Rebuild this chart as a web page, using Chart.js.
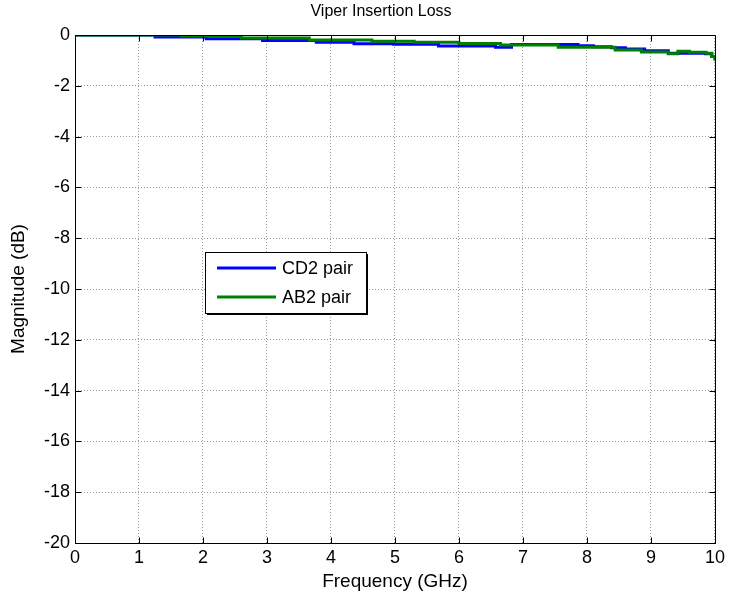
<!DOCTYPE html>
<html>
<head>
<meta charset="utf-8">
<script src="https://cdn.jsdelivr.net/npm/chart.js@4.4.1/dist/chart.umd.min.js"></script>
<style>
html,body{margin:0;padding:0;background:#fff;}
#wrap{width:729px;height:597px;}
</style>
</head>
<body>
<div id="wrap"><canvas id="c" width="729" height="597"></canvas></div>
<script>
// ---- data ----
const chartTitle = "Viper Insertion Loss";
const xTitle = "Frequency (GHz)";
const yTitle = "Magnitude (dB)";
const seriesNames = ["CD2 pair", "AB2 pair"];
const xTicks = [0,1,2,3,4,5,6,7,8,9,10];
const yTicks = [0,-2,-4,-6,-8,-10,-12,-14,-16,-18,-20];

const cdFreq = [0, 1.25, 2.05, 2.93, 3.77, 4.36, 4.98, 5.68, 6.57, 6.82, 7.86, 8.10, 8.38, 8.60, 8.90, 9.27, 9.85, 9.95, 10.0];
const cdLoss = [0, -0.08, -0.15, -0.22, -0.29, -0.34, -0.36, -0.43, -0.48, -0.37, -0.42, -0.46, -0.50, -0.55, -0.62, -0.72, -0.74, -0.85, -0.96];

const abFreq = [0, 1.67, 2.60, 3.66, 4.64, 5.30, 6.00, 6.65, 7.55, 8.44, 8.85, 9.27, 9.42, 9.60, 9.86, 9.95, 10.0];
const abLoss = [0, -0.04, -0.12, -0.20, -0.25, -0.29, -0.33, -0.39, -0.48, -0.59, -0.67, -0.74, -0.64, -0.68, -0.72, -0.85, -1.01];

const colors = ["#0000ff", "#008000"];

function pts(xs, ys){ return xs.map((x,i)=>({x:x, y:ys[i]})); }

const FONT = "'Liberation Sans', Arial, sans-serif";

const boxPlugin = {
  id: 'boxPlugin',
  afterDatasetsDraw(chart){
    const ctx = chart.ctx, a = chart.chartArea;
    const xs = chart.scales.x, ys = chart.scales.y;
    ctx.save();
    // title
    ctx.fillStyle = '#000';
    ctx.font = "16px " + FONT;
    ctx.textAlign = 'center';
    ctx.textBaseline = 'middle';
    ctx.fillText(chartTitle, 381, 12);

    ctx.strokeStyle = '#000';
    ctx.lineWidth = 1;
    ctx.beginPath();
    const L = Math.round(a.left)+0.5, R = Math.round(a.right)+0.5, T = Math.round(a.top)+0.5, B = Math.round(a.bottom)+0.5;
    ctx.rect(L, T, R-L, B-T);
    // inner tick marks
    xTicks.forEach(v=>{
      const p = Math.round(xs.getPixelForValue(v))+0.5;
      ctx.moveTo(p, B); ctx.lineTo(p, B-6);
      ctx.moveTo(p, T); ctx.lineTo(p, T+6);
    });
    yTicks.forEach(v=>{
      const p = Math.round(ys.getPixelForValue(v))+0.5;
      ctx.moveTo(L, p); ctx.lineTo(L+6, p);
      ctx.moveTo(R, p); ctx.lineTo(R-6, p);
    });
    ctx.stroke();

    // legend box
    const lx = 205, ly = 252, lw = 161, lh = 61;
    ctx.fillStyle = '#fff';
    ctx.fillRect(lx, ly, lw, lh);
    ctx.fillStyle = '#000';
    ctx.fillRect(lx+lw, ly+2, 2, lh);
    ctx.fillRect(lx+2, ly+lh, lw, 2);
    ctx.strokeRect(lx+0.5, ly+0.5, lw, lh);
    ctx.font = "18px " + FONT;
    ctx.textBaseline = 'middle';
    ctx.textAlign = 'left';
    seriesNames.forEach((n,i)=>{
      const yy = ly + 16 + i*29;
      ctx.strokeStyle = colors[i];
      ctx.lineWidth = 3;
      ctx.beginPath(); ctx.moveTo(lx+12, yy); ctx.lineTo(lx+71, yy); ctx.stroke();
      ctx.fillStyle = '#000';
      ctx.fillText(n, lx+77, yy+1);
    });
    ctx.restore();
  }
};

new Chart(document.getElementById('c'), {
  type: 'line',
  data: {
    datasets: [
      { label: seriesNames[0], data: pts(cdFreq, cdLoss), borderColor: colors[0], backgroundColor: colors[0], borderWidth: 3, pointRadius: 0, stepped: 'before', order: 2 },
      { label: seriesNames[1], data: pts(abFreq, abLoss), borderColor: colors[1], backgroundColor: colors[1], borderWidth: 3, pointRadius: 0, stepped: 'before', order: 1 }
    ]
  },
  options: {
    responsive: false,
    animation: false,
    layout: { padding: { left: 7, right: 10, top: 35, bottom: 4 } },
    plugins: {
      legend: { display: false },
      tooltip: { enabled: false },
      title: { display: false }
    },
    scales: {
      x: {
        type: 'linear', min: 0, max: 10,
        afterBuildTicks: s => { s.ticks = xTicks.map(v=>({value:v})); },
        afterFit: s => { s.height = 50; },
        grid: { color: '#9a9a9a', lineWidth: 1, drawTicks: false },
        border: { display: false, dash: [1,2] },
        ticks: { color: '#000', font: { family: FONT, size: 18 }, padding: 4, maxRotation: 0 },
        title: { display: true, text: xTitle, color: '#000', font: { family: FONT, size: 19 }, padding: { top: 0, bottom: 0 } }
      },
      y: {
        type: 'linear', min: -20, max: 0,
        afterBuildTicks: s => { s.ticks = yTicks.map(v=>({value:v})); },
        afterFit: s => { s.width = 68; },
        grid: { color: '#9a9a9a', lineWidth: 1, drawTicks: false },
        border: { display: false, dash: [1,2] },
        ticks: { color: '#000', font: { family: FONT, size: 18 }, padding: 5 },
        title: { display: true, text: yTitle, color: '#000', font: { family: FONT, size: 19 }, padding: { top: 0, bottom: 4 } }
      }
    }
  },
  plugins: [boxPlugin]
});
</script>
</body>
</html>
